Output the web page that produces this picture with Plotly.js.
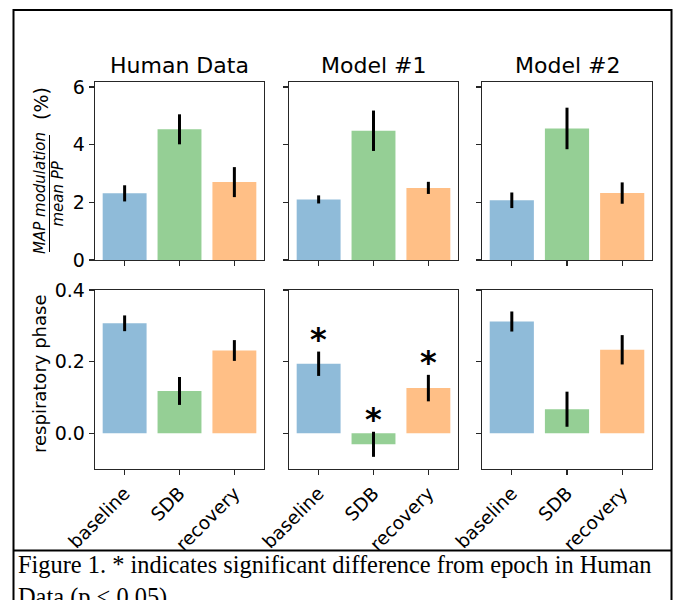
<!DOCTYPE html>
<html>
<head>
<meta charset="utf-8">
<script src="https://cdn.plot.ly/plotly-3.0.1.min.js"></script>
<style>
  html, body { margin: 0; padding: 0; background: #ffffff; }
  #chart { width: 678px; height: 600px; }
</style>
</head>
<body>
<div id="chart"></div>
<script>
// ---------------- data ----------------
const categories = ['baseline', 'SDB', 'recovery'];
const panelTitles = ['Human Data', 'Model #1', 'Model #2'];

// MAP modulation / mean PP (%)
const mapHuman  = [2.31, 4.53, 2.70];
const mapModel1 = [2.10, 4.48, 2.50];
const mapModel2 = [2.07, 4.56, 2.32];
const mapErrHuman  = [0.28, 0.52, 0.52];
const mapErrModel1 = [0.14, 0.70, 0.21];
const mapErrModel2 = [0.27, 0.72, 0.37];

// respiratory phase
const phaseHuman  = [0.307, 0.118, 0.231];
const phaseModel1 = [0.194, -0.031, 0.126];
const phaseModel2 = [0.312, 0.067, 0.233];
const phaseErrHuman  = [0.022, 0.039, 0.029];
const phaseErrModel1 = [0.034, 0.035, 0.037];
const phaseErrModel2 = [0.028, 0.049, 0.041];

// significance markers (respiratory phase, Model #1)
const sigModel1 = [true, true, true];

const topTicks = [0, 2, 4, 6];
const bottomTicks = [0.0, 0.2, 0.4];
const bottomTickText = ['0.0', '0.2', '0.4'];

const caption = 'Figure 1. * indicates significant difference from epoch in Human<br>Data (p &lt; 0.05).';

// ---------------- styling ----------------
const W = 678, H = 600;
const barColors = ['rgba(31,119,180,0.5)', 'rgba(44,160,44,0.5)', 'rgba(255,127,14,0.5)'];
const FONT = 'DejaVu Sans';
const px = v => v / W;
const py = v => 1 - v / H;

const colX = [[95, 264], [289, 458], [482, 652]];
const topY = [82, 260];
const botY = [290, 469];

const mapMeans = [mapHuman, mapModel1, mapModel2];
const mapErrs = [mapErrHuman, mapErrModel1, mapErrModel2];
const phaseMeans = [phaseHuman, phaseModel1, phaseModel2];
const phaseErrs = [phaseErrHuman, phaseErrModel1, phaseErrModel2];

const traces = [];
const layout = {
  width: W, height: H,
  margin: {l: 0, r: 0, t: 0, b: 0},
  paper_bgcolor: '#ffffff',
  plot_bgcolor: '#ffffff',
  showlegend: false,
  bargap: 0.2,
  font: {family: FONT, color: '#000000', size: 18},
  annotations: [],
  shapes: []
};

function axisCommon() {
  return {
    showline: true, mirror: true, linecolor: '#262626', linewidth: 1.3,
    ticks: 'outside', ticklen: 5, tickwidth: 1.2, tickcolor: '#262626',
    showgrid: false, zeroline: false, fixedrange: true,
    tickfont: {family: FONT, size: 19, color: '#000000'}
  };
}

for (let c = 0; c < 3; c++) {
  const iTop = c + 1, iBot = c + 4;
  traces.push({
    type: 'bar', x: categories, y: mapMeans[c],
    xaxis: 'x' + iTop, yaxis: 'y' + iTop,
    marker: {color: barColors, line: {width: 0}},
    error_y: {type: 'data', array: mapErrs[c], visible: true, color: '#000000', thickness: 3, width: 0},
    hoverinfo: 'skip'
  });
  traces.push({
    type: 'bar', x: categories, y: phaseMeans[c],
    xaxis: 'x' + iBot, yaxis: 'y' + iBot,
    marker: {color: barColors, line: {width: 0}},
    error_y: {type: 'data', array: phaseErrs[c], visible: true, color: '#000000', thickness: 3, width: 0},
    hoverinfo: 'skip'
  });

  const xTop = Object.assign(axisCommon(), {
    domain: [px(colX[c][0]), px(colX[c][1])], anchor: 'y' + iTop,
    type: 'category', range: [-0.54, 2.54], showticklabels: false
  });
  const xBot = Object.assign(axisCommon(), {
    domain: [px(colX[c][0]), px(colX[c][1])], anchor: 'y' + iBot,
    type: 'category', range: [-0.54, 2.54], showticklabels: true, tickangle: -45,
    tickfont: {family: FONT, size: 18.5, color: '#000000'}
  });
  const yTop = Object.assign(axisCommon(), {
    domain: [py(topY[1]), py(topY[0])], anchor: 'x' + iTop,
    range: [0, 6.17], tickvals: topTicks, showticklabels: c === 0
  });
  const yBot = Object.assign(axisCommon(), {
    domain: [py(botY[1]), py(botY[0])], anchor: 'x' + iBot,
    range: [-0.1, 0.4], tickvals: bottomTicks, ticktext: bottomTickText, showticklabels: c === 0
  });
  layout['xaxis' + (iTop === 1 ? '' : iTop)] = xTop;
  layout['xaxis' + iBot] = xBot;
  layout['yaxis' + (iTop === 1 ? '' : iTop)] = yTop;
  layout['yaxis' + iBot] = yBot;

  layout.annotations.push({
    xref: 'paper', yref: 'paper', x: px((colX[c][0] + colX[c][1]) / 2), y: py(65),
    xanchor: 'center', yanchor: 'middle', showarrow: false,
    text: panelTitles[c], font: {family: FONT, size: 22, color: '#000000'}
  });
}

// significance stars on Model #1 respiratory phase
for (let i = 0; i < categories.length; i++) {
  if (!sigModel1[i]) continue;
  layout.annotations.push({
    xref: 'x5', yref: 'y5', x: categories[i], y: phaseModel1[i] + phaseErrModel1[i],
    xanchor: 'center', yanchor: 'bottom', showarrow: false, yshift: -8,
    text: '<b>*</b>', font: {family: FONT, size: 32, color: '#000000'}
  });
}

// y labels
layout.annotations.push({
  xref: 'paper', yref: 'paper', x: px(40), y: py(193), textangle: -90,
  xanchor: 'center', yanchor: 'middle', showarrow: false,
  text: '<i>MAP modulation</i>', font: {family: FONT, size: 15, color: '#000000'}
});
layout.annotations.push({
  xref: 'paper', yref: 'paper', x: px(57.5), y: py(194), textangle: -90,
  xanchor: 'center', yanchor: 'middle', showarrow: false,
  text: '<i>mean PP</i>', font: {family: FONT, size: 15, color: '#000000'}
});
layout.annotations.push({
  xref: 'paper', yref: 'paper', x: px(41), y: py(104), textangle: -90,
  xanchor: 'center', yanchor: 'middle', showarrow: false,
  text: '(%)', font: {family: FONT, size: 19, color: '#000000'}
});
layout.shapes.push({
  type: 'line', xref: 'paper', yref: 'paper',
  x0: px(49.5), x1: px(49.5), y0: py(135), y1: py(252),
  line: {color: '#000000', width: 1}
});
layout.annotations.push({
  xref: 'paper', yref: 'paper', x: px(39), y: py(374), textangle: -90,
  xanchor: 'center', yanchor: 'middle', showarrow: false,
  text: 'respiratory phase', font: {family: FONT, size: 18, color: '#000000'}
});

// outer figure frame and caption box
layout.shapes.push({
  type: 'rect', xref: 'paper', yref: 'paper',
  x0: px(13.5), x1: px(671.5), y0: py(610), y1: py(10),
  line: {color: '#000000', width: 2}, fillcolor: 'rgba(0,0,0,0)'
});
layout.shapes.push({
  type: 'line', xref: 'paper', yref: 'paper',
  x0: px(13.5), x1: px(671.5), y0: py(550.5), y1: py(550.5),
  line: {color: '#000000', width: 2}
});
layout.annotations.push({
  xref: 'paper', yref: 'paper', x: px(16), y: py(549),
  xanchor: 'left', yanchor: 'top', align: 'left', showarrow: false,
  text: caption, font: {family: 'Liberation Serif', size: 24.4, color: '#000000'}
});

Plotly.newPlot('chart', traces, layout, {displayModeBar: false, staticPlot: true});
</script>
</body>
</html>
